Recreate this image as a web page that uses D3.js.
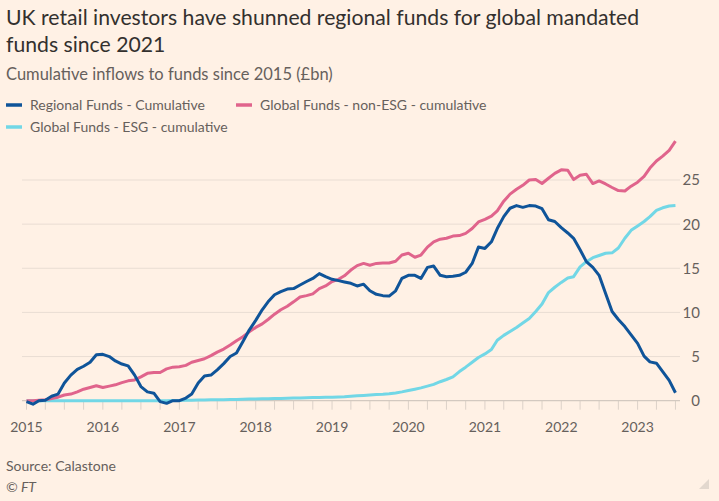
<!DOCTYPE html>
<html>
<head>
<meta charset="utf-8">
<script src="https://cdn.jsdelivr.net/npm/d3@7"></script>
<style>
  html, body { margin: 0; padding: 0; background: #FFF1E5; }
  svg { display: block; }
  text { font-family: Lato, "Noto Sans", sans-serif; }
</style>
</head>
<body>
<svg id="chart" width="719" height="501"></svg>
<script>
// ---------- DATA (monthly, Jan 2015 – Jul 2023) ----------
const startMonth = "2015-01";
const seriesNames = ["Regional Funds - Cumulative", "Global Funds - non-ESG - cumulative", "Global Funds - ESG - cumulative"];
const regional = [
  -0.1, -0.4, 0.0, 0.05, 0.5, 0.75, 2.0, 2.9, 3.55, 3.9, 4.35, 5.2,
  5.25, 5.0, 4.5, 4.15, 3.95, 2.9, 1.6, 1.0, 0.85, -0.1, -0.3, 0.0,
  0.0, 0.3, 0.76, 2.0, 2.8, 2.9, 3.5, 4.2, 5.0, 5.4, 6.7, 8.0,
  9.1, 10.3, 11.2, 12.0, 12.35, 12.65, 12.7, 13.1, 13.5, 13.85, 14.4, 14.05,
  13.75, 13.6, 13.45, 13.3, 13.0, 13.2, 12.45, 12.05, 11.9, 11.85, 12.45, 13.85,
  14.2, 14.2, 13.85, 15.1, 15.25, 14.2, 14.05, 14.1, 14.2, 14.55, 15.55, 17.4,
  17.25, 18.0, 19.5, 20.85, 21.8, 22.1, 21.9, 22.1, 22.05, 21.75, 20.5, 20.3,
  19.6, 19.0, 18.4, 17.1, 15.75, 15.1, 14.2, 12.15, 10.1, 9.2, 8.4, 7.45,
  6.5, 5.05, 4.4, 4.25, 3.3, 2.3, 0.9
];
const globalNonEsg = [
  0.0, 0.0, 0.05, 0.1, 0.25, 0.4, 0.65, 0.75, 1.0, 1.3, 1.5, 1.7,
  1.5, 1.65, 1.8, 2.05, 2.25, 2.35, 2.7, 3.1, 3.2, 3.2, 3.6, 3.8,
  3.85, 4.0, 4.35, 4.55, 4.75, 5.1, 5.5, 5.85, 6.3, 6.8, 7.25, 7.8,
  8.3, 8.7, 9.2, 9.8, 10.3, 10.7, 11.2, 11.75, 11.9, 12.1, 12.7, 13.0,
  13.5, 13.75, 14.15, 14.8, 15.3, 15.55, 15.35, 15.55, 15.6, 15.6, 15.8, 16.5,
  16.7, 16.25, 16.5, 17.4, 18.0, 18.3, 18.4, 18.65, 18.7, 18.95, 19.5, 20.25,
  20.55, 20.9, 21.5, 22.6, 23.4, 23.95, 24.4, 25.0, 25.05, 24.6, 25.2, 25.75,
  26.15, 26.1, 25.05, 25.55, 25.65, 24.6, 24.9, 24.55, 24.15, 23.8, 23.75, 24.3,
  24.75, 25.4, 26.35, 27.15, 27.7, 28.35, 29.4
];
const globalEsg = [
  0, 0, 0, 0, 0, 0, 0, 0, 0, 0, 0, 0,
  0, 0, 0, 0, 0, 0, 0, 0, 0, 0, 0, 0.02,
  0.03, 0.05, 0.06, 0.07, 0.08, 0.1, 0.1, 0.12, 0.13, 0.15, 0.16, 0.18,
  0.2, 0.21, 0.23, 0.25, 0.26, 0.28, 0.3, 0.31, 0.33, 0.35, 0.36, 0.38,
  0.4, 0.42, 0.45, 0.5, 0.55, 0.6, 0.65, 0.7, 0.72, 0.78, 0.88, 1.0,
  1.15, 1.3, 1.45, 1.65, 1.85, 2.15, 2.4, 2.7, 3.3, 3.8, 4.35, 4.9,
  5.3, 5.8, 6.85, 7.4, 7.85, 8.3, 8.8, 9.3, 10.1, 10.95, 12.25, 12.85,
  13.4, 13.9, 14.05, 15.15, 15.75, 16.2, 16.45, 16.7, 16.75, 17.3, 18.4, 19.3,
  19.8, 20.3, 20.85, 21.55, 21.85, 22.05, 22.1
];
const yTicks = [0, 5, 10, 15, 20, 25];
const xTickYears = ["2015", "2016", "2017", "2018", "2019", "2020", "2021", "2022", "2023"];

// ---------- LAYOUT ----------
const W = 719, H = 501;
const colors = ["#0F5499", "#E0648C", "#72D7E6"];
const svg = d3.select("#chart");
svg.append("rect").attr("width", W).attr("height", H).attr("fill", "#FFF1E5");

const parse = d3.timeParse("%Y-%m");
const t0 = parse(startMonth);
const dates = regional.map((_, i) => d3.timeMonth.offset(t0, i));

const x = d3.scaleTime()
  .domain([parse("2015-01"), parse("2023-01")])
  .range([26.5, 637.6]);
const y = d3.scaleLinear().domain([0, 25]).range([400.7, 180]);

const gridLeft = 22, gridRight = 680;

// gridlines
svg.append("g").selectAll("line").data(yTicks.filter(d => d !== 0)).join("line")
  .attr("x1", gridLeft).attr("x2", gridRight)
  .attr("y1", d => y(d)).attr("y2", d => y(d))
  .attr("stroke", "#E9DDD3").attr("stroke-width", 1);

// x ticks (quarterly)
const quarterTicks = d3.timeMonth.every(3).range(parse("2015-01"), d3.timeMonth.offset(dates[dates.length - 1], 1));
svg.append("g").selectAll("line").data(quarterTicks).join("line")
  .attr("x1", d => x(d)).attr("x2", d => x(d))
  .attr("y1", y(0)).attr("y2", y(0) + 9)
  .attr("stroke", "#DCD1C8").attr("stroke-width", 1);

// baseline
svg.append("line")
  .attr("x1", gridLeft).attr("x2", gridRight)
  .attr("y1", y(0)).attr("y2", y(0))
  .attr("stroke", "#D3C9C0").attr("stroke-width", 1.2);

// y labels
svg.append("g").selectAll("text").data(yTicks).join("text")
  .attr("x", 700).attr("y", d => y(d))
  .attr("dy", "0.36em")
  .attr("text-anchor", "end")
  .attr("font-size", 15).attr("fill", "#66605C")
  .text(d => d);

// x labels
svg.append("g").selectAll("text").data(xTickYears).join("text")
  .attr("x", d => x(parse(d + "-01")))
  .attr("y", 432)
  .attr("text-anchor", "middle")
  .attr("font-size", 14).attr("fill", "#66605C")
  .text(d => d);

// lines
const line = d3.line().x((d, i) => x(dates[i])).y(d => y(d)).curve(d3.curveLinear);
const order = [globalEsg, globalNonEsg, regional];
const orderColors = [colors[2], colors[1], colors[0]];
order.forEach((s, k) => {
  svg.append("path").datum(s)
    .attr("d", line)
    .attr("fill", "none")
    .attr("stroke", orderColors[k])
    .attr("stroke-width", 3)
    .attr("stroke-linejoin", "round")
    .attr("stroke-linecap", "butt");
});

// title
const title = svg.append("text").attr("x", 6).attr("y", 25).attr("font-size", 21.2).attr("fill", "#33302E");
title.append("tspan").attr("x", 6).attr("y", 25).text("UK retail investors have shunned regional funds for global mandated");
title.append("tspan").attr("x", 6).attr("y", 52).text("funds since 2021");

svg.append("text").attr("x", 6).attr("y", 80).attr("font-size", 16.5).attr("fill", "#66605C")
  .text("Cumulative inflows to funds since 2015 (£bn)");

// legend
const legendPos = [[6, 105], [236, 105], [6, 127]];
seriesNames.forEach((name, i) => {
  const [lx, ly] = legendPos[i];
  svg.append("line").attr("x1", lx).attr("x2", lx + 16).attr("y1", ly).attr("y2", ly)
    .attr("stroke", colors[i]).attr("stroke-width", 3.5);
  svg.append("text").attr("x", lx + 24).attr("y", ly).attr("dy", "0.35em")
    .attr("font-size", 14).attr("fill", "#66605C").text(name);
});

// footer
svg.append("text").attr("x", 6).attr("y", 471).attr("font-size", 14).attr("fill", "#66605C").text("Source: Calastone");
svg.append("text").attr("x", 6).attr("y", 492).attr("font-size", 14).attr("font-style", "italic").attr("fill", "#66605C").text("© FT");

// corner mark
svg.append("path").attr("d", `M${W - 10},${H - 22} L${W - 10},${H - 12} L${W - 20},${H - 12} Z`).attr("fill", "#E3D8CE");
</script>
</body>
</html>
